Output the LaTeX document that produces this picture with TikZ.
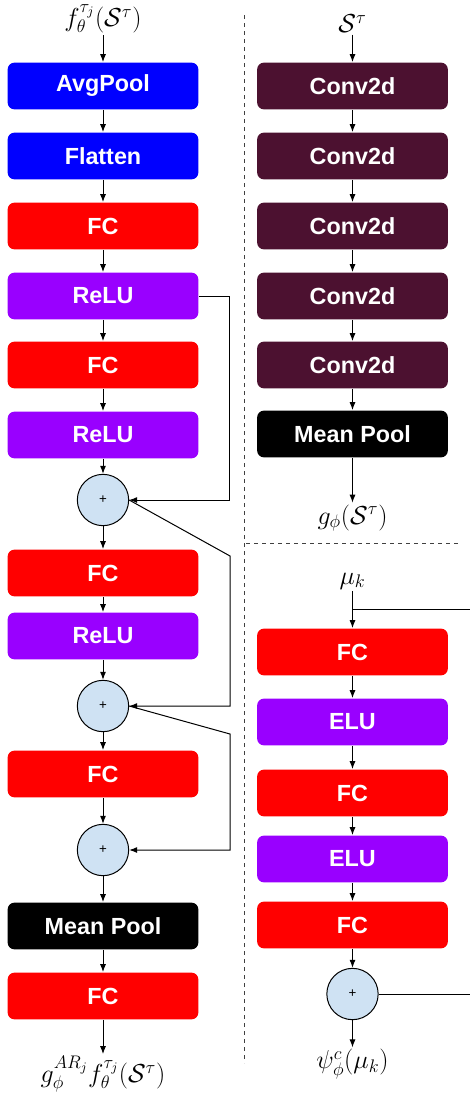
\documentclass[tikz,border=0pt]{standalone}
\usepackage{fix-cm}
\usepackage{fontspec}
\setsansfont{Liberation Sans}
\usetikzlibrary{arrows.meta,positioning}
\definecolor{poolblue}{HTML}{0000FF}
\definecolor{fcred}{HTML}{FF0000}
\definecolor{actpurple}{HTML}{9900FF}
\definecolor{convred}{HTML}{4C1130}
\definecolor{addfill}{HTML}{CFE2F3}

\begin{document}
\begin{tikzpicture}[x=0.75pt,y=-0.75pt,->,>={Latex[length=6pt,width=4.5pt]},
  line width=0.75pt,
  layer/.style={rectangle,rounded corners=5pt,minimum width=143pt,minimum height=35pt,
    text=white,font=\sffamily\bfseries\fontsize{17.5}{20}\selectfont},
  pool/.style={layer,fill=poolblue},
  fc/.style={layer,fill=fcred},
  act/.style={layer,fill=actpurple},
  conv/.style={layer,fill=convred},
  mean/.style={layer,fill=black},
  add node/.style={circle,draw,fill=addfill,minimum size=38.5pt,inner sep=0pt,
    font=\sffamily\fontsize{10}{12}\selectfont},
  lbl/.style={font=\fontsize{19.5}{23}\selectfont,inner sep=1pt}]
    \useasboundingbox (0,0) rectangle (470,1093);

    % left column
    \node[lbl](fin) at (103,19){$f_\theta^{\tau_j}(\mathcal{S}^\tau)$};
    \node[pool](avg) at (103,86){AvgPool};
    \node[pool](flat) at (103,156){Flatten};
    \node[fc](fcA) at (103,226){FC};
    \node[act](reluA) at (103,296){ReLU};
    \node[fc](fcB) at (103,365){FC};
    \node[act](reluB) at (103,435){ReLU};
    \node[add node](addA) at (103,500){+};
    \node[fc](fcC) at (103,573){FC};
    \node[act](reluC) at (103,636){ReLU};
    \node[add node](addB) at (103,706){+};
    \node[fc](fcD) at (103,774){FC};
    \node[add node](addC) at (103,850){+};
    \node[mean](meanL) at (103,926){Mean Pool};
    \node[fc](fcE) at (103,996){FC};
    \node[lbl](fout) at (103,1074){$g_\phi^{AR_j}f_\theta^{\tau_j}(\mathcal{S}^\tau)$};

    % right top column
    \node[lbl](sin) at (352.5,24){$\mathcal{S}^\tau$};
    \node[conv](convA) at (352.5,86){Conv2d};
    \node[conv](convB) at (352.5,156){Conv2d};
    \node[conv](convC) at (352.5,226){Conv2d};
    \node[conv](convD) at (352.5,296){Conv2d};
    \node[conv](convE) at (352.5,365){Conv2d};
    \node[mean](meanR) at (352.5,434){Mean Pool};
    \node[lbl](gout) at (352.5,518){$g_\phi(\mathcal{S}^\tau)$};

    % right bottom column
    \node[lbl](mu) at (352.5,581){$\mu_k$};
    \node[fc](fcF) at (352.5,652){FC};
    \node[act](eluA) at (352.5,722){ELU};
    \node[fc](fcG) at (352.5,793){FC};
    \node[act](eluB) at (352.5,859){ELU};
    \node[fc](fcH) at (352.5,925){FC};
    \node[add node](addD) at (352.5,994){+};
    \node[lbl](psi) at (352.5,1064){$\psi_\phi^c(\mu_k)$};

    \foreach \a/\b in {fin/avg,avg/flat,flat/fcA,fcA/reluA,reluA/fcB,fcB/reluB,
        reluB/addA,addA/fcC,fcC/reluC,reluC/addB,addB/fcD,fcD/addC,addC/meanL,
        meanL/fcE,fcE/fout,sin/convA,convA/convB,convB/convC,convC/convD,
        convD/convE,convE/meanR,meanR/gout,mu/fcF,fcF/eluA,eluA/fcG,fcG/eluB,
        eluB/fcH,fcH/addD,addD/psi}
      \draw (\a) -- (\b);

    % skip connections
    \draw (reluA.east) -- ++(31,0) |- (addA.east);
    \draw (addA.east) -- (230,556) |- (addB.east);
    \draw (addB.east) -- (230,734) |- (addC.east);
    \coordinate (mubranch) at (352.5,609);
    \draw[-] (mubranch) -- (480,609) |- (addD.east);

    % separators
    \draw[-,dashed,black!75] (244,15) -- (244,1063);
    \draw[-,dashed,black!75] (246,543) -- (458,543);
\end{tikzpicture}
\end{document}
